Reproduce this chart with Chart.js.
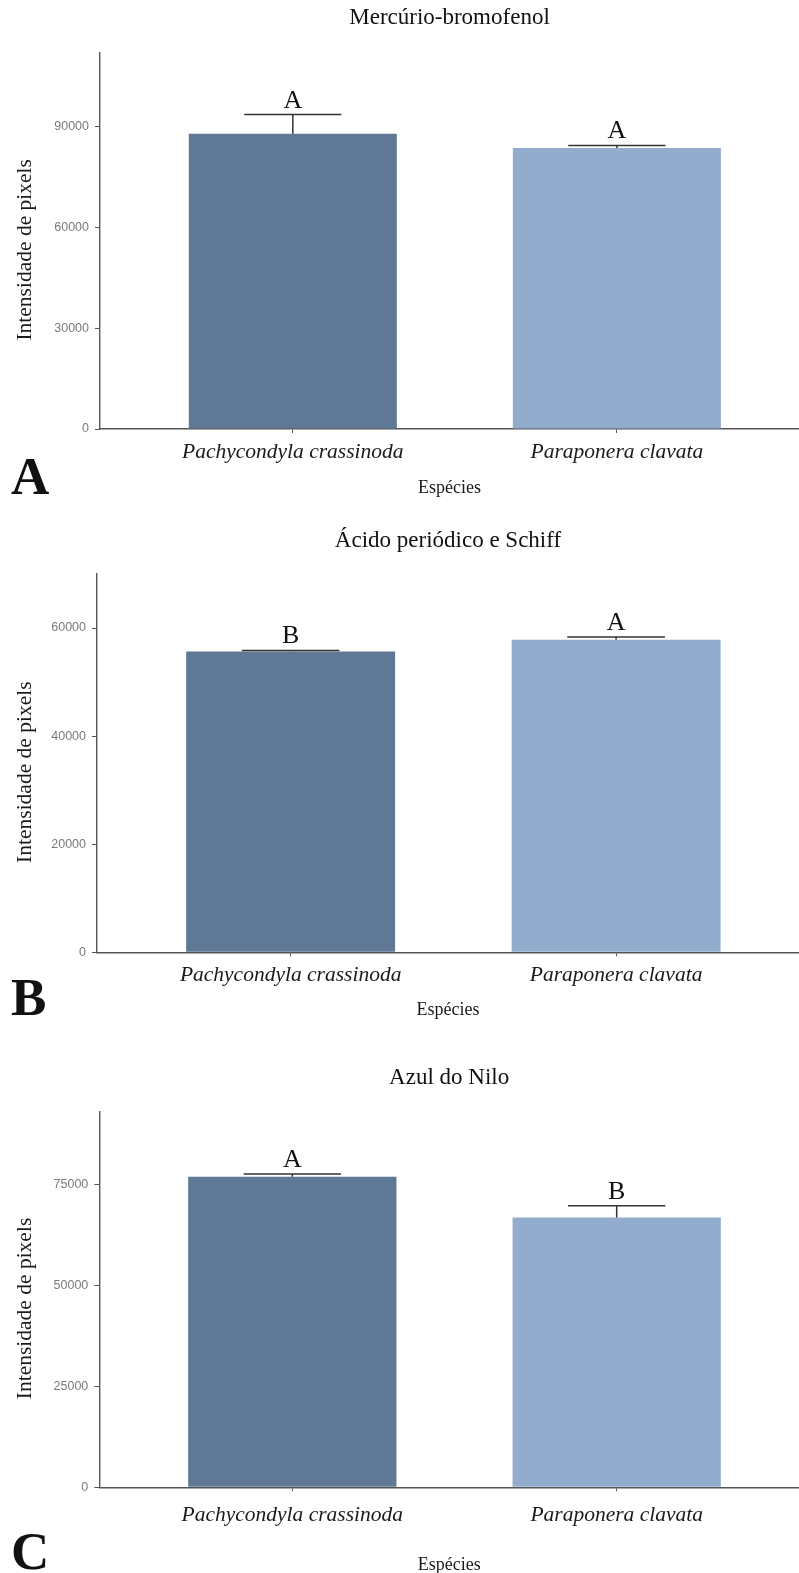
<!DOCTYPE html>
<html><head><meta charset="utf-8">
<script src="https://cdn.jsdelivr.net/npm/chart.js@4.4.1/dist/chart.umd.min.js"></script>
<style>
html,body{margin:0;padding:0;background:#fff;}
#wrap{position:relative;width:799px;height:1573px;overflow:hidden;background:#fff;}
.panel{position:absolute;left:0;width:799px;}
canvas{display:block;}
</style></head><body>
<div id="wrap">
<div class="panel" style="top:0px"><canvas id="cA"></canvas></div>
<div class="panel" style="top:520px"><canvas id="cB"></canvas></div>
<div class="panel" style="top:1045px"><canvas id="cC"></canvas></div>
</div>
<script>
// ---- data ----
const categories = ['Pachycondyla crassinoda', 'Paraponera clavata'];
const panelTitles = ['Mercúrio-bromofenol', 'Ácido periódico e Schiff', 'Azul do Nilo'];
const panelLetters = ['A', 'B', 'C'];
const yAxisTitle = 'Intensidade de pixels';
const xAxisTitle = 'Espécies';

const meansMB = [87900, 83600];
const errMB = [5670, 810];
const groupsMB = ['A', 'A'];
const ticksMB = [0, 30000, 60000, 90000];

const meansPAS = [55670, 57830];
const errPAS = [180, 500];
const groupsPAS = ['B', 'A'];
const ticksPAS = [0, 20000, 40000, 60000];

const meansAN = [76880, 66830];
const errAN = [670, 2870];
const groupsAN = ['A', 'B'];
const ticksAN = [0, 25000, 50000, 75000];

const yMaxes = [112000, 70000, 93000];

// ---- styles / layout ----
const SERIF = '"Liberation Serif", "Times New Roman", serif';
const SANS = '"Liberation Sans", Arial, sans-serif';
const AXIS = '#555555';
const barColors = ['rgb(94,120,149)', 'rgb(146,172,205)'];

const layouts = [
  {h: 520, axisX: 100, areaTop: 52.7, areaBottom: 429, catY: 452, xTitleY: 488, titleY: 18, letterBase: 494},
  {h: 525, axisX: 97, areaTop: 54, areaBottom: 432.3, catY: 455, xTitleY: 490, titleY: 21, letterBase: 495},
  {h: 540, axisX: 99.3, areaTop: 66.7, areaBottom: 442.3, catY: 470, xTitleY: 520, titleY: 33, letterBase: 524}
];

const annot = {
  id: 'annot',
  afterDatasetsDraw(chart, args, o) {
    const {ctx, scales: {x, y}, chartArea} = chart;
    ctx.save();
    ctx.strokeStyle = '#333';
    ctx.lineWidth = 1.5;
    o.means.forEach((m, i) => {
      const cx = x.getPixelForValue(i + 1);
      const y0 = y.getPixelForValue(m);
      const y1 = y.getPixelForValue(m + o.errs[i]);
      const xl = x.getPixelForValue(i + 1 - 0.15);
      const xr = x.getPixelForValue(i + 1 + 0.15);
      ctx.beginPath();
      ctx.moveTo(cx, y0); ctx.lineTo(cx, y1);
      ctx.moveTo(xl, y1); ctx.lineTo(xr, y1);
      ctx.stroke();
      ctx.fillStyle = '#111';
      ctx.font = '26px ' + SERIF;
      ctx.textAlign = 'center';
      ctx.textBaseline = 'alphabetic';
      ctx.fillText(o.groups[i], cx, y1 - 7);
    });
    ctx.fillStyle = '#111';
    ctx.font = '23px ' + SERIF;
    ctx.textAlign = 'center';
    ctx.textBaseline = 'middle';
    ctx.fillText(o.title, (chartArea.left + chartArea.right) / 2, o.titleY);
    // y-axis title
    ctx.save();
    ctx.translate(25, (chartArea.top + chartArea.bottom) / 2 + 9);
    ctx.rotate(-Math.PI / 2);
    ctx.font = '21.5px ' + SERIF;
    ctx.fillStyle = '#1a1a1a';
    ctx.textAlign = 'center';
    ctx.textBaseline = 'middle';
    ctx.fillText(o.yTitle, 0, 0);
    ctx.restore();
    ctx.fillStyle = '#111';
    ctx.font = 'bold 53px ' + SERIF;
    ctx.textAlign = 'left';
    ctx.textBaseline = 'alphabetic';
    ctx.fillText(o.letter, 11, o.letterBase);
    ctx.restore();
  }
};

function makePanel(id, idx, means, errs, groups, tickVals) {
  const L = layouts[idx];
  const cv = document.getElementById(id);
  cv.width = 799; cv.height = L.h;
  cv.style.width = '799px'; cv.style.height = L.h + 'px';
  const Hx = L.xTitleY - L.areaBottom + 14.8;
  const padBottom = L.h - L.areaBottom - Hx;
  new Chart(cv, {
    type: 'bar',
    data: {
      datasets: [{
        data: means.map((v, i) => ({x: i + 1, y: v})),
        backgroundColor: barColors,
        borderWidth: 0,
        barPercentage: 0.642,
        categoryPercentage: 1
      }]
    },
    options: {
      responsive: false,
      devicePixelRatio: 1,
      animation: false,
      layout: {padding: {top: L.areaTop, bottom: padBottom, left: 0, right: 0}},
      plugins: {
        legend: {display: false},
        tooltip: {enabled: false},
        annot: {means: means, errs: errs, groups: groups, title: panelTitles[idx], letter: panelLetters[idx],
                yTitle: yAxisTitle, titleY: L.titleY, letterBase: L.letterBase}
      },
      scales: {
        x: {
          type: 'linear',
          min: 0.405, max: 2.562,
          offset: false,
          afterBuildTicks: s => { s.ticks = [{value: 1}, {value: 2}]; },
          afterFit: s => { s.height = Hx; },
          grid: {display: true, drawOnChartArea: false, drawTicks: true, tickLength: 4, color: AXIS, lineWidth: 1, offset: false},
          border: {display: true, color: AXIS, width: 1.4},
          ticks: {
            callback: v => categories[Math.round(v) - 1],
            font: {family: SERIF, size: 21.5, style: 'italic'},
            color: '#1a1a1a',
            padding: L.catY - L.areaBottom - 4 - 12.9,
            maxRotation: 0, autoSkip: false
          },
          title: {display: true, text: xAxisTitle, font: {family: SERIF, size: 18}, color: '#1a1a1a', padding: {top: 0, bottom: 4}}
        },
        y: {
          min: 0, max: yMaxes[idx],
          afterBuildTicks: s => { s.ticks = tickVals.map(v => ({value: v})); },
          afterFit: s => { s.width = L.axisX; },
          grid: {display: true, drawOnChartArea: false, drawTicks: true, tickLength: 5, color: AXIS, lineWidth: 1},
          border: {display: true, color: AXIS, width: 1.4},
          ticks: {font: {family: SANS, size: 12.5}, color: '#7a7a7a', padding: 6, callback: v => String(v)},
          title: {display: false}
        }
      }
    },
    plugins: [annot]
  });
}

makePanel('cA', 0, meansMB, errMB, groupsMB, ticksMB);
makePanel('cB', 1, meansPAS, errPAS, groupsPAS, ticksPAS);
makePanel('cC', 2, meansAN, errAN, groupsAN, ticksAN);
</script>
</body></html>
